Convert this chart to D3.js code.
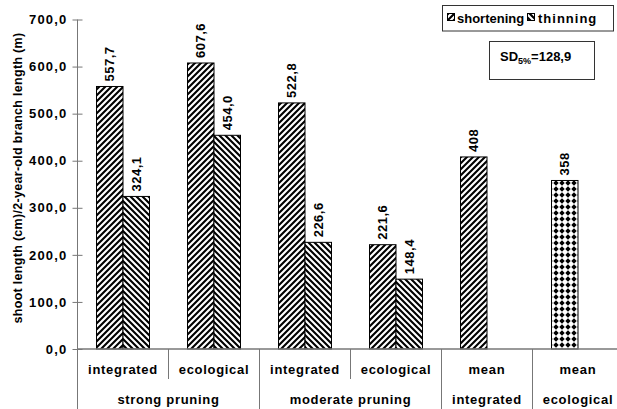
<!DOCTYPE html>
<html>
<head>
<meta charset="utf-8">
<script src="https://cdn.jsdelivr.net/npm/d3@7"></script>
<style>
  body { margin: 0; background: #fff; }
  svg text { font-family: "Liberation Sans", Arial, sans-serif; font-weight: bold; fill: #000; }
</style>
</head>
<body>
<svg id="chart_svg" width="617" height="409"></svg>
<script>
// data
var categories = ["integrated", "ecological", "integrated", "ecological", "mean", "mean"];
var groups = ["strong pruning", "moderate pruning", "integrated", "ecological"];
var groupStart = [0, 2, 4, 5];
var groupEnd = [1, 3, 4, 5];
var shortening = [557.7, 607.6, 522.8, 221.6];
var thinning = [324.1, 454.0, 226.6, 148.4];
var meanValues = [408, 358];
var meanPatterns = ["pat_up", "pat_diamond"];
var yTicks = [0, 100, 200, 300, 400, 500, 600, 700];
var series = ["shortening", "thinning"];

var svg = d3.select("#chart_svg");
var W = 617, H = 409;
var AXIS_X = 77.5, BASE_Y = 349, TOP_Y = 19.5, CAT_W = 91;
var LINE_COL = "#777";

svg.append("rect").attr("width", W).attr("height", H).attr("fill", "#fff");

// patterns
var defs = svg.append("defs");
var pu = defs.append("pattern").attr("id", "pat_up")
    .attr("patternUnits", "userSpaceOnUse").attr("width", 6).attr("height", 6);
pu.append("rect").attr("width", 6).attr("height", 6).attr("fill", "#fff");
pu.append("path").attr("d", "M-1.5,1.5L1.5,-1.5M0,6L6,0M4.5,7.5L7.5,4.5")
    .attr("stroke", "#000").attr("stroke-width", 2.1);
var pd = defs.append("pattern").attr("id", "pat_down")
    .attr("patternUnits", "userSpaceOnUse").attr("width", 6).attr("height", 6);
pd.append("rect").attr("width", 6).attr("height", 6).attr("fill", "#fff");
pd.append("path").attr("d", "M-1.5,4.5L1.5,7.5M0,0L6,6M4.5,-1.5L7.5,1.5")
    .attr("stroke", "#000").attr("stroke-width", 2.1);
var pdi = defs.append("pattern").attr("id", "pat_diamond")
    .attr("patternUnits", "userSpaceOnUse").attr("width", 6).attr("height", 6)
    .attr("x", 1).attr("y", 0);
pdi.append("rect").attr("width", 6).attr("height", 6).attr("fill", "#fff");
pdi.append("path").attr("d", "M3,0.3L5.7,3L3,5.7L0.3,3Z").attr("fill", "#000");

// scales
var y = d3.scaleLinear().domain([0, 700]).range([BASE_Y, TOP_Y]);
var x = d3.scaleBand().domain(d3.range(categories.length))
    .range([AXIS_X, AXIS_X + CAT_W * categories.length]).padding(0);
var xs = d3.scaleBand().domain(series).range([0, CAT_W]).paddingInner(0).paddingOuter(0.717);
var fmt = function(v) { return d3.format(".1f")(v).replace(".", ","); };

function bar(ci, s, v, pat, label) {
    var bx = x(ci) + xs(s);
    var bw = xs.bandwidth();
    svg.append("rect")
        .attr("x", bx).attr("y", y(v))
        .attr("width", bw).attr("height", BASE_Y - y(v))
        .attr("fill", "url(#" + pat + ")")
        .attr("stroke", "#000").attr("stroke-width", 1);
    svg.append("text")
        .attr("transform", "translate(" + (bx + bw / 2 + 4.5) + "," + (y(v) - 5) + ") rotate(-90)")
        .attr("font-size", 13).attr("letter-spacing", 0.5)
        .text(label);
}

for (var i = 0; i < shortening.length; i++) {
    bar(i, "shortening", shortening[i], "pat_up", fmt(shortening[i]));
    bar(i, "thinning", thinning[i], "pat_down", fmt(thinning[i]));
}
for (var j = 0; j < meanValues.length; j++) {
    bar(4 + j, "shortening", meanValues[j], meanPatterns[j], d3.format("d")(meanValues[j]));
}

// y axis
var yAxis = svg.append("g").attr("transform", "translate(" + AXIS_X + ",0)")
    .call(d3.axisLeft(y).tickValues(yTicks).tickSize(5).tickPadding(5).tickFormat(fmt));
yAxis.select(".domain").remove();
yAxis.selectAll("line").attr("stroke", LINE_COL);
yAxis.selectAll("text").attr("font-size", 13).attr("letter-spacing", 1.2)
    .style("font-family", "'Liberation Sans', Arial, sans-serif").attr("fill", "#000");
var yAxisR = svg.append("g").attr("transform", "translate(" + AXIS_X + ",0)")
    .call(d3.axisRight(y).tickValues(yTicks).tickSize(5).tickFormat(""));
yAxisR.select(".domain").remove();
yAxisR.selectAll("line").attr("stroke", LINE_COL);

svg.append("line").attr("x1", AXIS_X).attr("x2", AXIS_X).attr("y1", TOP_Y).attr("y2", H)
    .attr("stroke", LINE_COL);
svg.append("line").attr("x1", AXIS_X).attr("x2", W).attr("y1", BASE_Y).attr("y2", BASE_Y)
    .attr("stroke", LINE_COL).attr("stroke-width", 1.5);

svg.append("text")
    .attr("transform", "translate(22,178) rotate(-90)")
    .attr("text-anchor", "middle").attr("font-size", 12.5).attr("letter-spacing", 0.3)
    .text("shoot length (cm)/2-year-old branch length (m)");

// category labels and separators
svg.selectAll(".catlab").data(categories).enter().append("text")
    .attr("class", "catlab")
    .attr("x", function(d, i) { return x(i) + CAT_W / 2; })
    .attr("y", 373.5)
    .attr("text-anchor", "middle").attr("font-size", 13).attr("letter-spacing", 0.7)
    .text(function(d) { return d; });

for (var k = 1; k < categories.length; k++) {
    var full = groupStart.indexOf(k) >= 0;
    svg.append("line")
        .attr("x1", x(k)).attr("x2", x(k))
        .attr("y1", BASE_Y).attr("y2", full ? H : 379)
        .attr("stroke", LINE_COL);
}

svg.selectAll(".grplab").data(groups).enter().append("text")
    .attr("class", "grplab")
    .attr("x", function(d, i) { return (x(groupStart[i]) + x(groupEnd[i]) + CAT_W) / 2; })
    .attr("y", 403.5)
    .attr("text-anchor", "middle").attr("font-size", 13).attr("letter-spacing", 0.7)
    .text(function(d) { return d; });

// legend
svg.append("rect").attr("x", 442.5).attr("y", 5.5).attr("width", 171).attr("height", 25.5)
    .attr("fill", "#fff").attr("stroke", "#333");
var legX = [447, 527];
var legPat = ["pat_up", "pat_down"];
var legTxtX = [457, 538];
var legSp = [0, 1];
for (var m = 0; m < series.length; m++) {
    svg.append("rect").attr("x", legX[m] + 0.5).attr("y", 13.5).attr("width", 7).attr("height", 7)
        .attr("fill", "url(#" + legPat[m] + ")").attr("stroke", "#000");
    svg.append("text").attr("x", legTxtX[m]).attr("y", 22.5).attr("font-size", 13)
        .attr("letter-spacing", legSp[m])
        .text(series[m]);
}

// SD box
svg.append("rect").attr("x", 489.5).attr("y", 41.5).attr("width", 105).attr("height", 38)
    .attr("fill", "#fff").attr("stroke", "#333");
var sd = svg.append("text").attr("x", 500).attr("y", 61).attr("font-size", 13);
sd.append("tspan").text("SD");
sd.append("tspan").attr("font-size", 9).attr("dy", 3).text("5%");
sd.append("tspan").attr("dy", -3).text("=128,9");
</script>
</body>
</html>
